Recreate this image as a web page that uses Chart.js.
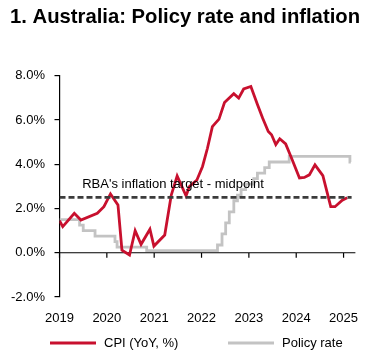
<!DOCTYPE html>
<html><head><meta charset="utf-8">
<script src="https://cdn.jsdelivr.net/npm/chart.js@4/dist/chart.umd.min.js"></script>
<style>html,body{margin:0;padding:0;background:#fff;}#wrap{width:372px;height:357px;position:relative;}</style>
</head><body><div id="wrap"><canvas id="c" width="372" height="357"></canvas></div>
<script>
// ---- data ----
const titleText = "1. Australia: Policy rate and inflation";
const yearTicks = [2019, 2020, 2021, 2022, 2023, 2024, 2025];
const yTicks = [-2, 0, 2, 4, 6, 8];

// CPI (YoY, %) – vertices as decimal years
const cpiDates = [2019.000, 2019.069, 2019.313, 2019.452, 2019.798, 2019.938, 2020.077, 2020.235, 2020.319, 2020.479,
  2020.598, 2020.723, 2020.910, 2020.994, 2021.223, 2021.360, 2021.485, 2021.673, 2021.744, 2021.902,
  2022.021, 2022.125, 2022.229, 2022.369, 2022.485, 2022.681, 2022.785, 2022.890, 2023.042, 2023.177,
  2023.292, 2023.410, 2023.479, 2023.569, 2023.652, 2023.777, 2023.896, 2024.069, 2024.173, 2024.277,
  2024.396, 2024.563, 2024.729, 2024.819, 2024.973, 2025.077];
const cpiValues = [1.45, 1.18, 1.78, 1.48, 1.78, 2.08, 2.66, 2.16, 0.12, -0.10,
  1.00, 0.38, 1.06, 0.30, 0.80, 2.60, 3.47, 2.57, 2.99, 3.29,
  3.90, 4.72, 5.70, 6.04, 6.79, 7.19, 6.99, 7.40, 7.51, 6.72,
  6.08, 5.48, 5.33, 4.89, 5.15, 4.92, 4.30, 3.38, 3.40, 3.52,
  3.97, 3.48, 2.08, 2.08, 2.37, 2.48];

// Policy rate – change dates and levels
const policyDates = ["2019-01-01", "2019-06-05", "2019-07-03", "2019-10-02", "2020-03-04", "2020-03-20", "2020-11-04",
  "2022-05-04", "2022-06-08", "2022-07-06", "2022-08-03", "2022-09-07", "2022-10-05", "2022-11-02", "2022-12-07",
  "2023-02-08", "2023-03-08", "2023-05-03", "2023-06-07", "2023-11-08", "2025-02-19", "2025-02-26"];
const policyValues = [1.50, 1.25, 1.00, 0.75, 0.50, 0.25, 0.10,
  0.35, 0.85, 1.35, 1.85, 2.35, 2.60, 2.85, 3.10,
  3.35, 3.60, 3.85, 4.10, 4.35, 4.10, 4.10];

const targetDates = [2019, 2025.17];
const targetValues = [2.5, 2.5];
const targetLabel = "RBA's inflation target - midpoint";
const targetLabelAt = 2019.48;

const legendLabels = ["CPI (YoY, %)", "Policy rate"];

// ---- helpers ----
function toDecimalYear(s) {
  const [y, m, d] = s.split("-").map(Number);
  const start = Date.UTC(y, 0, 1), end = Date.UTC(y + 1, 0, 1);
  return y + (Date.UTC(y, m - 1, d) - start) / (end - start);
}
const zip = (xs, ys) => xs.map((x, i) => ({ x: x, y: ys[i] }));

const FONT = "'Liberation Sans', Arial, sans-serif";
const RED = "#C8102E", GREY = "#C3C3C3", DASH = "#3C3C3C";

const overlay = {
  id: "overlay",
  beforeDatasetsDraw(chart) {
    const { ctx, chartArea: a, scales: { x, y } } = chart;
    const y0 = y.getPixelForValue(0);
    ctx.save();
    ctx.strokeStyle = "#000"; ctx.lineWidth = 1.2;
    ctx.beginPath(); ctx.moveTo(a.left, y0); ctx.lineTo(a.right, y0);
    yearTicks.forEach(t => { const px = x.getPixelForValue(t); ctx.moveTo(px, y0); ctx.lineTo(px, y0 + 5); });
    ctx.stroke();
    ctx.restore();
  },
  afterDatasetsDraw(chart) {
    const { ctx, scales: { x, y } } = chart;
    ctx.save();
    ctx.font = "13px " + FONT; ctx.fillStyle = "#000";
    ctx.textBaseline = "middle"; ctx.textAlign = "left";
    ctx.fillText(targetLabel, x.getPixelForValue(targetLabelAt), y.getPixelForValue(2.5) - 13);
    // legend
    const ly = 343;
    const items = [[RED, legendLabels[0], 50], [GREY, legendLabels[1], 228]];
    items.forEach(([col, txt, lx]) => {
      ctx.strokeStyle = col; ctx.lineWidth = 3;
      ctx.beginPath(); ctx.moveTo(lx, ly); ctx.lineTo(lx + 46, ly); ctx.stroke();
      ctx.fillText(txt, lx + 54, ly);
    });
    ctx.restore();
  }
};

new Chart(document.getElementById("c"), {
  type: "line",
  data: {
    datasets: [
      { label: "target", data: zip(targetDates, targetValues), borderColor: DASH, borderWidth: 2.6, borderDash: [6, 3], pointRadius: 0 },
      { label: legendLabels[0], data: zip(cpiDates, cpiValues), borderColor: RED, borderWidth: 2.8, pointRadius: 0, tension: 0 },
      { label: legendLabels[1], data: zip(policyDates.map(toDecimalYear), policyValues), borderColor: GREY, borderWidth: 2.8, pointRadius: 0, stepped: "before" }
    ]
  },
  options: {
    responsive: false, animation: false, devicePixelRatio: 1,
    layout: { padding: { left: 10, right: 12, top: 0, bottom: 0 } },
    plugins: {
      legend: { display: false }, tooltip: { enabled: false },
      title: { display: true, text: titleText, align: "start", color: "#000",
        font: { family: FONT, size: 20.5, weight: "bold" }, padding: { top: 5.4, bottom: 45.7 } }
    },
    scales: {
      x: { type: "linear", min: 2019, max: 2025.25,
        afterFit: s => { s.height = 60; },
        afterBuildTicks: s => { s.ticks = yearTicks.map(v => ({ value: v })); },
        grid: { display: false, drawTicks: false }, border: { display: false },
        ticks: { padding: 13.5, color: "#000", font: { family: FONT, size: 13 }, callback: v => String(v), maxRotation: 0, autoSkip: false } },
      y: { min: -2, max: 8,
        afterFit: s => { s.width = 49.5; },
        afterBuildTicks: s => { s.ticks = yTicks.map(v => ({ value: v })); },
        grid: { display: true, drawOnChartArea: false, drawTicks: true, tickLength: 5, color: "#000", lineWidth: 1.2 },
        border: { display: true, color: "#000", width: 1.2 },
        ticks: { padding: 9.5, color: "#000", font: { family: FONT, size: 13 }, callback: v => v.toFixed(1) + "%" } }
    }
  },
  plugins: [overlay]
});
</script></body></html>
